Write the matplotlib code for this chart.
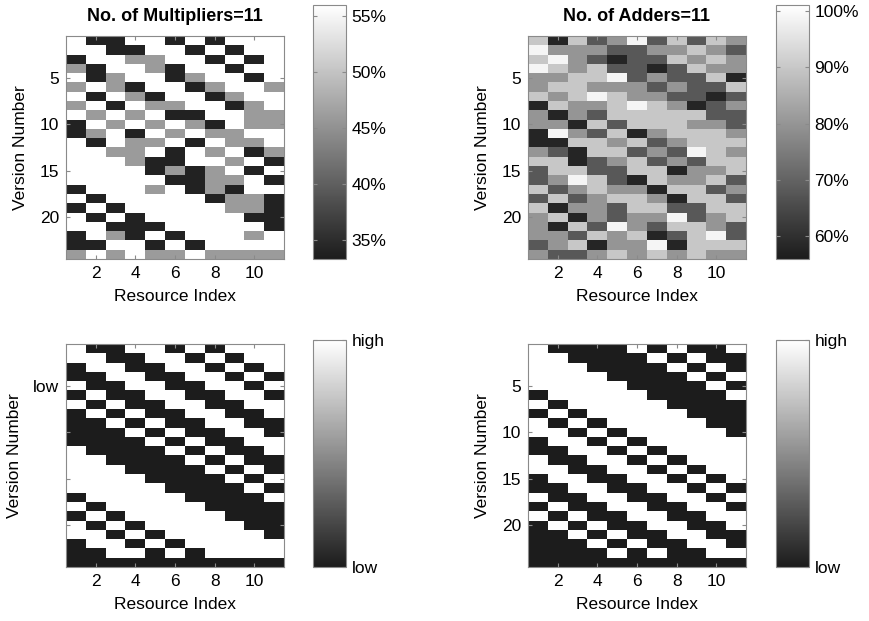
import numpy as np
import matplotlib
matplotlib.use('Agg')
import matplotlib.pyplot as plt
from matplotlib.colors import LinearSegmentedColormap

plt.rcParams['font.family'] = ['Liberation Sans', 'DejaVu Sans']

resource_index = list(range(1, 12))
version_number = list(range(1, 25))

# Utilisation of the 11 multipliers (%) per version
mult_util = [
    [56, 34, 34, 56, 56, 34, 56, 34, 56, 56, 56],
    [56, 56, 34, 34, 56, 56, 34, 56, 34, 56, 56],
    [34, 56, 56, 46, 46, 56, 56, 34, 56, 34, 56],
    [46, 34, 56, 56, 46, 34, 56, 56, 34, 56, 56],
    [56, 34, 46, 56, 56, 34, 46, 56, 56, 34, 56],
    [46, 56, 46, 34, 56, 56, 34, 46, 56, 56, 46],
    [56, 34, 56, 46, 34, 56, 56, 34, 46, 56, 56],
    [46, 56, 34, 56, 46, 46, 56, 56, 34, 46, 56],
    [56, 46, 56, 46, 56, 34, 34, 56, 56, 46, 46],
    [34, 56, 46, 56, 46, 56, 46, 34, 56, 46, 46],
    [34, 46, 56, 34, 56, 46, 56, 46, 46, 56, 56],
    [56, 34, 56, 46, 46, 56, 34, 56, 46, 46, 56],
    [56, 56, 46, 46, 56, 34, 56, 46, 56, 34, 46],
    [56, 56, 56, 46, 34, 34, 56, 56, 46, 56, 34],
    [56, 56, 56, 56, 34, 46, 34, 46, 56, 34, 56],
    [56, 56, 56, 56, 56, 34, 34, 46, 46, 56, 34],
    [34, 56, 56, 56, 46, 56, 34, 46, 34, 56, 56],
    [56, 34, 56, 56, 56, 56, 56, 34, 46, 46, 34],
    [34, 56, 34, 56, 56, 56, 56, 56, 46, 46, 34],
    [56, 34, 56, 34, 56, 56, 56, 56, 56, 34, 34],
    [56, 56, 34, 34, 34, 56, 56, 56, 56, 56, 34],
    [34, 56, 46, 34, 56, 34, 56, 56, 56, 46, 56],
    [34, 34, 56, 56, 34, 56, 34, 56, 56, 56, 56],
    [46, 56, 46, 56, 46, 46, 56, 46, 46, 46, 46],
]

# Utilisation of the 11 adders (%) per version
add_util = [
    [90, 58, 90, 68, 80, 99, 68, 90, 68, 90, 80],
    [99, 80, 80, 80, 68, 68, 80, 80, 90, 80, 68],
    [90, 99, 80, 68, 58, 68, 68, 90, 80, 90, 80],
    [99, 90, 80, 90, 68, 68, 58, 68, 90, 80, 80],
    [80, 80, 90, 90, 99, 68, 80, 68, 68, 90, 58],
    [80, 90, 90, 80, 80, 80, 68, 80, 68, 68, 90],
    [90, 80, 90, 99, 90, 80, 80, 68, 68, 58, 68],
    [58, 90, 80, 80, 90, 99, 90, 80, 58, 68, 80],
    [80, 58, 80, 68, 90, 90, 90, 90, 90, 68, 68],
    [80, 80, 58, 90, 68, 90, 90, 90, 80, 80, 68],
    [58, 99, 80, 68, 90, 58, 80, 90, 90, 90, 80],
    [58, 58, 90, 90, 80, 90, 68, 80, 90, 90, 90],
    [80, 68, 58, 90, 90, 68, 80, 68, 99, 90, 80],
    [90, 90, 58, 68, 80, 90, 68, 80, 68, 90, 90],
    [68, 90, 90, 68, 68, 90, 90, 58, 80, 80, 90],
    [68, 80, 99, 90, 68, 58, 90, 80, 80, 90, 68],
    [90, 68, 80, 90, 80, 80, 58, 90, 90, 68, 80],
    [68, 90, 68, 80, 90, 90, 80, 58, 90, 90, 68],
    [90, 58, 80, 80, 68, 90, 90, 68, 68, 90, 90],
    [80, 90, 58, 80, 68, 80, 80, 99, 68, 80, 90],
    [80, 58, 90, 68, 99, 80, 68, 90, 90, 80, 68],
    [80, 80, 68, 90, 80, 90, 58, 68, 90, 99, 68],
    [68, 80, 90, 58, 80, 80, 99, 58, 90, 90, 90],
    [80, 68, 68, 80, 90, 80, 90, 80, 90, 80, 80],
]

# Binary level maps (0 = low, 1 = high)
mult_level = [
    [1, 0, 0, 1, 1, 0, 1, 0, 1, 1, 1],
    [1, 1, 0, 0, 1, 1, 0, 1, 0, 1, 1],
    [0, 1, 1, 0, 0, 1, 1, 0, 1, 0, 1],
    [0, 0, 1, 1, 0, 0, 1, 1, 0, 1, 0],
    [1, 0, 0, 1, 1, 0, 0, 1, 1, 0, 1],
    [0, 1, 0, 0, 1, 1, 0, 0, 1, 1, 0],
    [1, 0, 1, 0, 0, 1, 1, 0, 0, 1, 1],
    [0, 1, 0, 1, 0, 0, 1, 1, 0, 0, 1],
    [0, 0, 1, 0, 1, 0, 0, 1, 1, 0, 0],
    [0, 0, 0, 1, 0, 1, 0, 0, 1, 1, 0],
    [0, 0, 0, 0, 1, 0, 1, 0, 0, 1, 1],
    [1, 0, 0, 0, 0, 1, 0, 1, 0, 0, 1],
    [1, 1, 0, 0, 0, 0, 1, 0, 1, 0, 0],
    [1, 1, 1, 0, 0, 0, 0, 1, 0, 1, 0],
    [1, 1, 1, 1, 0, 0, 0, 0, 1, 0, 1],
    [1, 1, 1, 1, 1, 0, 0, 0, 0, 1, 0],
    [0, 1, 1, 1, 1, 1, 0, 0, 0, 0, 1],
    [1, 0, 1, 1, 1, 1, 1, 0, 0, 0, 0],
    [0, 1, 0, 1, 1, 1, 1, 1, 0, 0, 0],
    [1, 0, 1, 0, 1, 1, 1, 1, 1, 0, 0],
    [1, 1, 0, 1, 0, 1, 1, 1, 1, 1, 0],
    [0, 1, 1, 0, 1, 0, 1, 1, 1, 1, 1],
    [0, 0, 1, 1, 0, 1, 0, 1, 1, 1, 1],
    [0, 0, 0, 0, 0, 0, 0, 0, 0, 0, 0],
]

add_level = [
    [1, 0, 0, 0, 0, 1, 0, 1, 0, 0, 1],
    [1, 1, 0, 0, 0, 0, 1, 0, 1, 0, 0],
    [1, 1, 1, 0, 0, 0, 0, 1, 0, 1, 0],
    [1, 1, 1, 1, 0, 0, 0, 0, 1, 0, 1],
    [1, 1, 1, 1, 1, 0, 0, 0, 0, 1, 0],
    [0, 1, 1, 1, 1, 1, 0, 0, 0, 0, 1],
    [1, 0, 1, 1, 1, 1, 1, 0, 0, 0, 0],
    [0, 1, 0, 1, 1, 1, 1, 1, 0, 0, 0],
    [1, 0, 1, 0, 1, 1, 1, 1, 1, 0, 0],
    [1, 1, 0, 1, 0, 1, 1, 1, 1, 1, 0],
    [0, 1, 1, 0, 1, 0, 1, 1, 1, 1, 1],
    [0, 0, 1, 1, 0, 1, 0, 1, 1, 1, 1],
    [1, 0, 0, 1, 1, 0, 1, 0, 1, 1, 1],
    [1, 1, 0, 0, 1, 1, 0, 1, 0, 1, 1],
    [0, 1, 1, 0, 0, 1, 1, 0, 1, 0, 1],
    [0, 0, 1, 1, 0, 0, 1, 1, 0, 1, 0],
    [1, 0, 0, 1, 1, 0, 0, 1, 1, 0, 1],
    [0, 1, 0, 0, 1, 1, 0, 0, 1, 1, 0],
    [1, 0, 1, 0, 0, 1, 1, 0, 0, 1, 1],
    [0, 1, 0, 1, 0, 0, 1, 1, 0, 0, 1],
    [0, 0, 1, 0, 1, 0, 0, 1, 1, 0, 0],
    [0, 0, 0, 1, 0, 1, 0, 0, 1, 1, 0],
    [0, 0, 0, 0, 1, 0, 1, 0, 0, 1, 1],
    [0, 0, 0, 0, 0, 0, 0, 0, 0, 0, 0],
]

titles = ['No. of Multipliers=11', 'No. of Adders=11']
mult_cbar_ticks = [35, 40, 45, 50, 55]
add_cbar_ticks = [60, 70, 80, 90, 100]
level_cbar_labels = ['low', 'high']

cmap = LinearSegmentedColormap.from_list('scan_gray', ['#1c1c1c', '#ffffff'])

W, H = 870, 621
fig = plt.figure(figsize=(W / 100, H / 100), dpi=100)


def fpos(x0, y0, x1, y1):
    return [x0 / W, 1 - y1 / H, (x1 - x0) / W, (y1 - y0) / H]


FS = 12.5
EDGE = '#8a8a8a'


def style_axes(ax):
    ax.tick_params(direction='in', length=3, top=True, right=True,
                   labelsize=FS, color=EDGE, pad=5)
    for s in ax.spines.values():
        s.set_color(EDGE)
        s.set_linewidth(0.8)


def heat(pos, data, vmin, vmax, title=None, ytl=None):
    ax = fig.add_axes(fpos(*pos))
    arr = np.array(data, dtype=float)
    im = ax.imshow(arr, cmap=cmap, vmin=vmin, vmax=vmax, aspect='auto',
                   interpolation='nearest',
                   extent=(0.5, len(resource_index) + 0.5,
                           len(version_number) + 0.5, 0.5))
    ax.set_xticks([2, 4, 6, 8, 10])
    ax.set_yticks([5, 10, 15, 20])
    if ytl is not None:
        ax.set_yticklabels(ytl)
    ax.set_xlabel('Resource Index', fontsize=FS, labelpad=6)
    ax.set_ylabel('Version Number', fontsize=FS, labelpad=8)
    if title:
        ax.set_title(title, fontsize=13, fontweight='bold', pad=11)
    style_axes(ax)
    return im


def cbar(im, pos, ticks, labels=None):
    cax = fig.add_axes(fpos(*pos))
    cb = fig.colorbar(im, cax=cax)
    cb.set_ticks(ticks)
    if labels is not None:
        cb.set_ticklabels(labels)
    cb.outline.set_edgecolor(EDGE)
    cb.outline.set_linewidth(0.8)
    cax.tick_params(direction='in', length=3, left=True, right=True,
                    labelsize=FS, color=EDGE, pad=4)
    return cb


im1 = heat((66, 36, 284, 259), mult_util, 33.3, 56.0, titles[0])
cb1 = cbar(im1, (313, 5, 346, 259), mult_cbar_ticks,
           [f'{t}%' for t in mult_cbar_ticks])

im2 = heat((528, 36, 746, 259), add_util, 56.0, 101.0, titles[1])
cb2 = cbar(im2, (776, 5, 809, 259), add_cbar_ticks,
           [f'{t}%' for t in add_cbar_ticks])

im3 = heat((66, 344, 284, 567), mult_level, 0, 1,
           ytl=['low', '', '', ''])
cb3 = cbar(im3, (313, 340, 346, 567), [0, 1], level_cbar_labels)

im4 = heat((528, 344, 746, 567), add_level, 0, 1)
cb4 = cbar(im4, (776, 340, 809, 567), [0, 1], level_cbar_labels)

fig.savefig('out.png', dpi=100)
